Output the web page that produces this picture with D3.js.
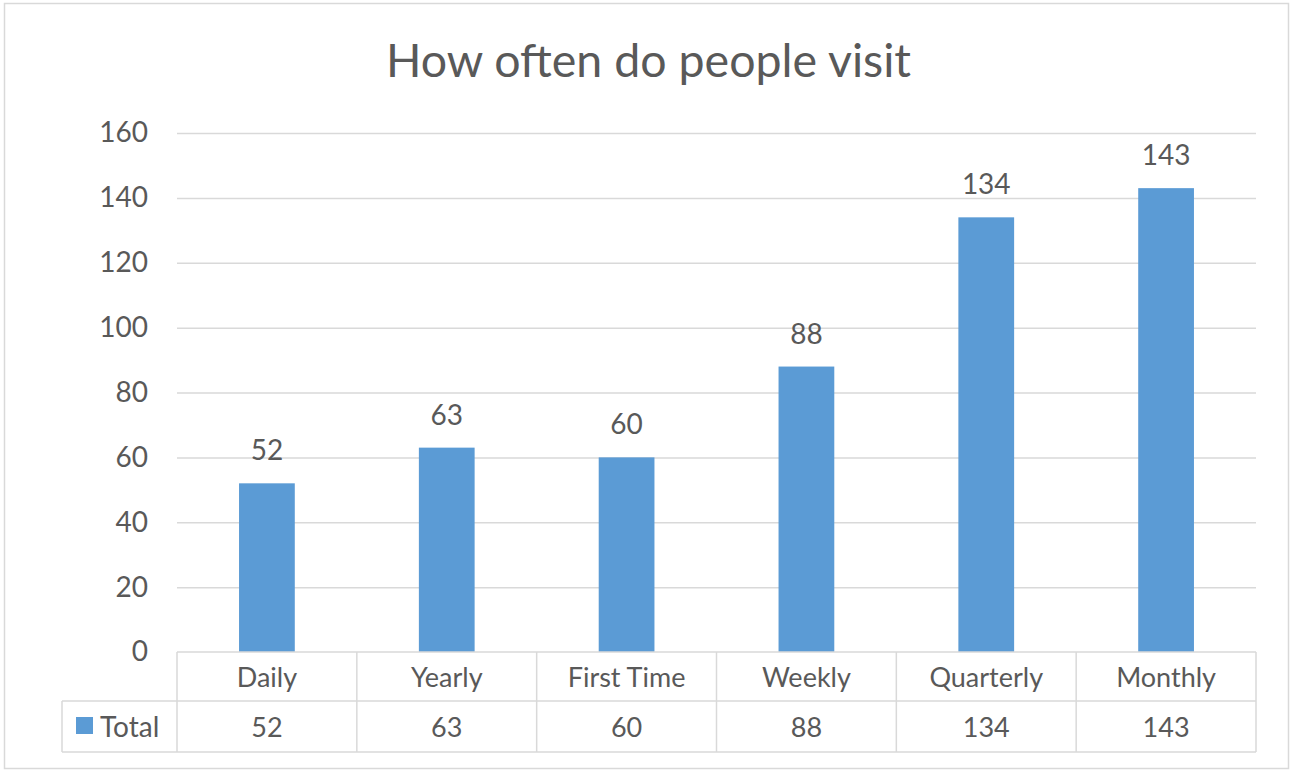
<!DOCTYPE html>
<html>
<head>
<meta charset="utf-8">
<script src="https://cdn.jsdelivr.net/npm/d3@7"></script>
<style>
  html, body { margin: 0; padding: 0; background: #ffffff; }
  svg { display: block; font-family: Lato, "Open Sans", sans-serif; }
</style>
</head>
<body>
<svg id="chart" width="1296" height="771"></svg>
<script>
// Visit frequency counts
const categories = ["Daily", "Yearly", "First Time", "Weekly", "Quarterly", "Monthly"];
const totals = [52, 63, 60, 88, 134, 143];
const seriesName = "Total";
const yTicks = [0, 20, 40, 60, 80, 100, 120, 140, 160];
const chartTitle = "How often do people visit";

const textColor = "#595959";
const lineColor = "#d9d9d9";
const barColor = "#5b9bd5";

const svg = d3.select("#chart");

// outer chart frame
svg.append("rect")
  .attr("x", 4.5).attr("y", 3.5)
  .attr("width", 1284).attr("height", 765)
  .attr("fill", "#fff").attr("stroke", "#d9d9d9").attr("stroke-width", 1.5);

const plot = { left: 177, right: 1256, top: 133, bottom: 652 };
const table = { left: 62, rowH: 50 };

const x = d3.scaleBand()
  .domain(categories)
  .range([plot.left, plot.right])
  .paddingInner(0.69)
  .paddingOuter(0.345);

const xCol = d3.scaleBand().domain(categories).range([plot.left, plot.right]);

const y = d3.scaleLinear().domain([0, 160]).range([plot.bottom, plot.top]);

// title
svg.append("text")
  .attr("x", 648.5)
  .attr("y", 77)
  .attr("text-anchor", "middle")
  .attr("font-size", 46.5)
  .attr("fill", textColor)
  .text(chartTitle);

// gridlines + y labels via axis
const yAxis = d3.axisLeft(y).tickValues(yTicks).tickSize(0).tickPadding(29);
const gy = svg.append("g").attr("transform", `translate(${plot.left},0)`).call(yAxis);
gy.select(".domain").remove();
gy.selectAll("text").attr("font-size", 28).attr("fill", textColor).attr("font-family", "Lato, sans-serif");

const grid = d3.axisLeft(y).tickValues(yTicks.filter(d => d > 0))
  .tickSize(-(plot.right - plot.left)).tickFormat("");
const gg = svg.append("g").attr("transform", `translate(${plot.left},0)`).call(grid);
gg.select(".domain").remove();
gg.selectAll("line").attr("stroke", lineColor).attr("stroke-width", 1.5);

// bars
svg.append("g").selectAll("rect")
  .data(categories)
  .join("rect")
  .attr("x", d => x(d))
  .attr("width", x.bandwidth())
  .attr("y", (d, i) => y(totals[i]))
  .attr("height", (d, i) => y(0) - y(totals[i]))
  .attr("fill", barColor);

// data labels
svg.append("g").selectAll("text")
  .data(categories)
  .join("text")
  .attr("x", d => x(d) + x.bandwidth() / 2)
  .attr("y", (d, i) => y(totals[i]) - 23)
  .attr("text-anchor", "middle")
  .attr("font-size", 28)
  .attr("fill", textColor)
  .text((d, i) => totals[i]);

// data table
const tbl = svg.append("g").attr("stroke", lineColor).attr("stroke-width", 1.5);
const r0 = plot.bottom, r1 = plot.bottom + 49, r2 = plot.bottom + 100;
tbl.append("line").attr("x1", plot.left).attr("x2", plot.right).attr("y1", r0).attr("y2", r0);
tbl.append("line").attr("x1", table.left).attr("x2", plot.right).attr("y1", r1).attr("y2", r1);
tbl.append("line").attr("x1", table.left).attr("x2", plot.right).attr("y1", r2).attr("y2", r2);
tbl.append("line").attr("x1", table.left).attr("x2", table.left).attr("y1", r1).attr("y2", r2);
tbl.selectAll("line.col")
  .data(categories.concat(["end"]))
  .join("line")
  .attr("class", "col")
  .attr("x1", d => d === "end" ? plot.right : xCol(d))
  .attr("x2", d => d === "end" ? plot.right : xCol(d))
  .attr("y1", r0).attr("y2", r2);

// category names row
svg.append("g").selectAll("text")
  .data(categories)
  .join("text")
  .attr("x", d => xCol(d) + xCol.bandwidth() / 2)
  .attr("y", r0 + 35)
  .attr("text-anchor", "middle")
  .attr("font-size", 27)
  .attr("fill", textColor)
  .text(d => d);

// values row
svg.append("g").selectAll("text")
  .data(categories)
  .join("text")
  .attr("x", d => xCol(d) + xCol.bandwidth() / 2)
  .attr("y", r1 + 36)
  .attr("text-anchor", "middle")
  .attr("font-size", 27)
  .attr("fill", textColor)
  .text((d, i) => totals[i]);

// legend key in the table
svg.append("rect")
  .attr("x", 76).attr("y", 717)
  .attr("width", 17).attr("height", 17)
  .attr("fill", barColor);
svg.append("text")
  .attr("x", 100).attr("y", r1 + 36)
  .attr("font-size", 28)
  .attr("fill", textColor)
  .text(seriesName);
</script>
</body>
</html>
